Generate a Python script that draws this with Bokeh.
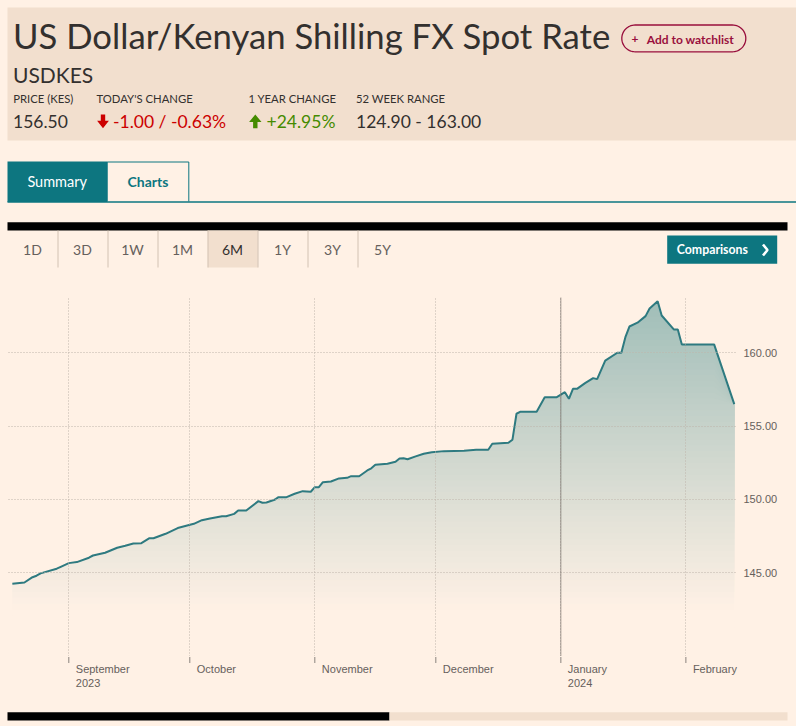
from datetime import datetime
import numpy as np
import pandas as pd
from bokeh.plotting import figure
from bokeh.layouts import column
from bokeh.models import Range1d, FixedTicker, PrintfTickFormatter, Span
from bokeh.embed import file_html
from bokeh.resources import INLINE
from bokeh.core.properties import value

# ---------------- data ----------------
dates = ["2023-08-18", "2023-08-21", "2023-08-23", "2023-08-24", "2023-08-25", "2023-08-29",
         "2023-08-30", "2023-09-01", "2023-09-03", "2023-09-06", "2023-09-07", "2023-09-10",
         "2023-09-13", "2023-09-15", "2023-09-17", "2023-09-19", "2023-09-21", "2023-09-22",
         "2023-09-25", "2023-09-28", "2023-10-02", "2023-10-04", "2023-10-06", "2023-10-09",
         "2023-10-10", "2023-10-12", "2023-10-13", "2023-10-15", "2023-10-18", "2023-10-19",
         "2023-10-20", "2023-10-22", "2023-10-23", "2023-10-25", "2023-10-27", "2023-10-29",
         "2023-10-31", "2023-11-01", "2023-11-02", "2023-11-03", "2023-11-05", "2023-11-07",
         "2023-11-09", "2023-11-10", "2023-11-12", "2023-11-14", "2023-11-15", "2023-11-16",
         "2023-11-19", "2023-11-21", "2023-11-22", "2023-11-23", "2023-11-24", "2023-11-26",
         "2023-11-28", "2023-11-30", "2023-12-03", "2023-12-08", "2023-12-11", "2023-12-14",
         "2023-12-15", "2023-12-17", "2023-12-19", "2023-12-20", "2023-12-21", "2023-12-22",
         "2023-12-26", "2023-12-28", "2023-12-31", "2024-01-02", "2024-01-03", "2024-01-04",
         "2024-01-05", "2024-01-07", "2024-01-09", "2024-01-10", "2024-01-12", "2024-01-15",
         "2024-01-16", "2024-01-17", "2024-01-18", "2024-01-20", "2024-01-22", "2024-01-23",
         "2024-01-25", "2024-01-26", "2024-01-29", "2024-01-30", "2024-01-31", "2024-02-08",
         "2024-02-13"]
rates = [144.24, 144.33, 144.69, 144.79, 144.95, 145.27,
         145.40, 145.65, 145.72, 146.02, 146.17, 146.36,
         146.70, 146.83, 146.99, 147.01, 147.35, 147.35,
         147.65, 148.04, 148.33, 148.58, 148.70, 148.85,
         148.85, 149.01, 149.24, 149.24, 149.88, 149.77,
         149.79, 149.97, 150.15, 150.15, 150.38, 150.56,
         150.52, 150.83, 150.83, 151.17, 151.22, 151.43,
         151.47, 151.58, 151.58, 151.97, 152.12, 152.36,
         152.43, 152.56, 152.79, 152.81, 152.74, 152.93,
         153.11, 153.22, 153.29, 153.31, 153.38, 153.38,
         153.79, 153.83, 153.86, 154.07, 155.84, 155.98,
         155.98, 156.97, 156.97, 157.31, 156.86, 157.54,
         157.54, 157.93, 158.27, 158.20, 159.47, 160.00,
         160.00, 161.06, 161.79, 162.05, 162.50, 163.02,
         163.52, 162.54, 161.59, 161.59, 160.57, 160.57,
         156.50]
month_ticks = ["2023-09-01", "2023-10-01", "2023-11-01", "2023-12-01", "2024-01-01", "2024-02-01"]
month_labels = ["September", "October", "November", "December", "January", "February"]
year_labels = ["2023", "", "", "", "2024", ""]
year_start = "2024-01-01"
y_ticks = [145, 150, 155, 160]
periods = ["1D", "3D", "1W", "1M", "6M", "1Y", "3Y", "5Y"]
selected_period = "6M"
title = "US Dollar/Kenyan Shilling FX Spot Rate"
symbol = "USDKES"
stat_heads = ["PRICE (KES)", "TODAY'S CHANGE", "1 YEAR CHANGE", "52 WEEK RANGE"]
price_txt = "156.50"
change_txt = "-1.00 / -0.63%"
year_change_txt = "+24.95%"
range_txt = "124.90 - 163.00"

# ---------------- styles ----------------
BG = "#fff1e5"
BAND = "#f2dfce"
TEAL = "#0d7680"
INK = "#33302e"
GREY = "#66605c"
CLARET = "#990f3d"
RED = "#cc0000"
GREEN = "#458b00"
LINE = "#2e7a80"
HFONT = "Lato"
CFONT = "Liberation Sans"
K_LATO = 0.387      # baseline -> middle offset (em)
K_LIB = 0.347
PAGE_STYLE = {"background-color": BG}


def mid(baseline, size, k=K_LATO):
    return baseline - k * size


def base_fig(h, align=False):
    f = figure(width=796, height=h, x_range=Range1d(0, 796), y_range=Range1d(h, 0),
               output_backend="svg", toolbar_location=None, min_border=0,
               x_axis_location=None, y_axis_location=None, outline_line_color=None,
               background_fill_color=BG, border_fill_color=BG, styles=PAGE_STYLE)
    f.frame_align = align
    f.grid.visible = False
    return f


def htext(f, xs_, ys_, texts, size, color, **kw):
    f.text(x=xs_, y=ys_, text=texts, text_font=value(HFONT), text_font_size=f"{size}px",
           text_color=color, text_baseline="middle", **kw)


# ---------------- header ----------------
hdr = base_fig(290)
hdr.quad(left=7, right=796, top=7, bottom=140, fill_color=BAND, line_color=None)
htext(hdr, [12.5], [mid(48.3, 34.7)], [title], 34.7, INK)
htext(hdr, [12.5], [mid(81.7, 21)], [symbol], 21, INK)
htext(hdr, [12.7, 96, 248, 355.5], [mid(102.7, 11.3)] * 4, stat_heads, 11.3, INK)
htext(hdr, [12.5, 112.5, 266, 355.5], [mid(127.7, 17.5)] * 4,
      [price_txt, change_txt, year_change_txt, range_txt], 17.5, [INK, RED, GREEN, INK])
# arrows
hdr.patch([100.3, 104.7, 104.7, 108.4, 102.5, 96.6, 100.3],
          [114, 114, 120.3, 120.3, 127.7, 120.3, 120.3], fill_color=RED, line_color=None)
hdr.patch([252.6, 257, 257, 261, 254.8, 248.6, 252.6],
          [127.7, 127.7, 121.4, 121.4, 114, 121.4, 121.4], fill_color=GREEN, line_color=None)
# watchlist pill
x0p, x1p, y0p, y1p = 621.3, 745.3, 24.5, 51.3
r = (y1p - y0p) / 2
cy = (y0p + y1p) / 2
a1 = np.linspace(-np.pi / 2, np.pi / 2, 30)
a2 = np.linspace(np.pi / 2, 3 * np.pi / 2, 30)
px = np.concatenate([x1p - r + r * np.cos(a1), x0p + r + r * np.cos(a2), [x1p - r]])
py = np.concatenate([cy + r * np.sin(a1), cy + r * np.sin(a2), [y0p]])
hdr.line(px, py, line_color=CLARET, line_width=1.3)
htext(hdr, [634.5], [mid(43.3, 12)], ["+"], 12, CLARET, text_font_style="bold", text_align="center")
htext(hdr, [646.3], [mid(43.3, 12)], ["Add to watchlist"], 12, CLARET, text_font_style="bold")
# tabs
hdr.quad(left=7, right=106.7, top=161, bottom=201.5, fill_color=TEAL, line_color=None)
hdr.line([106.7, 106.7, 188.3, 188.3], [201, 161.5, 161.5, 201], line_color=TEAL, line_width=1)
hdr.segment(x0=[7], y0=[201.5], x1=[796], y1=[201.5], line_color=TEAL, line_width=1.3)
htext(hdr, [56.7], [mid(186.7, 14.5)], ["Summary"], 14.5, "white", text_align="center")
htext(hdr, [147.5], [mid(186.7, 14)], ["Charts"], 14, TEAL, text_font_style="bold",
      text_align="center")
# black rule
hdr.quad(left=7, right=787, top=221.7, bottom=230, fill_color="black", line_color=None)
# period selector
idx = periods.index(selected_period)
cells_l = [7 + 50 * i for i in range(len(periods))]
hdr.quad(left=cells_l[idx] + 0.3, right=cells_l[idx] + 50.3, top=230, bottom=267,
         fill_color=BAND, line_color=None)
hdr.segment(x0=[c + 50.5 for c in cells_l[:-1]], y0=[230] * 7,
            x1=[c + 50.5 for c in cells_l[:-1]], y1=[267] * 7, line_color="#d2c2b3", line_width=1)
htext(hdr, [c + 25 for c in cells_l], [mid(254.3, 14)] * len(periods), periods, 14,
      [INK if p == selected_period else GREY for p in periods], text_align="center")
# comparisons button
hdr.quad(left=666.7, right=776.7, top=235, bottom=263.3, fill_color=TEAL, line_color=None)
htext(hdr, [676.3], [mid(254, 12.3)], ["Comparisons"], 12.3, "white", text_font_style="bold")
hdr.line([762.5, 767, 762.5], [244, 249.5, 255], line_color="white", line_width=2.6)

# ---------------- chart ----------------
xs = pd.to_datetime(dates)
vals = np.array(rates)
ylo, yhi = 139.28, 163.77
xr = Range1d(datetime(2023, 8, 17, 1, 10), datetime(2024, 2, 13, 19, 10))
chart = figure(width=796, height=366, x_axis_type="datetime", y_axis_location="right",
               x_axis_location=None, x_range=xr, y_range=Range1d(ylo, yhi),
               output_backend="svg", toolbar_location=None,
               min_border_left=8, min_border_right=59, min_border_top=7, min_border_bottom=0,
               outline_line_color=None, background_fill_color=BG, border_fill_color=BG,
               styles=PAGE_STYLE)

# gradient fill under the line (stacked bands)
bgc = np.array([255, 241, 229], float)
topc = np.array([157, 188, 183], float)
g_bot, g_top = 142.4, 164.2
step = 0.4
for lo in np.arange(ylo, vals.max() + step, step):
    t = float(np.clip((lo + step / 2 - g_bot) / (g_top - g_bot), 0, 1))
    c = bgc * (1 - t) + topc * t
    col = "#%02x%02x%02x" % tuple(int(round(v)) for v in c)
    chart.varea(x=xs, y1=np.minimum(vals, lo), y2=vals, fill_color=col)

chart.line(xs, vals, line_color=LINE, line_width=2)

month_ms = [pd.Timestamp(m).value / 1e6 for m in month_ticks]

chart.yaxis.ticker = FixedTicker(ticks=y_ticks)
chart.yaxis.formatter = PrintfTickFormatter(format="%.2f")
chart.yaxis.major_tick_line_color = None
chart.yaxis.major_tick_out = 0
chart.yaxis.minor_tick_line_color = None
chart.yaxis.axis_line_color = None
chart.yaxis.major_label_standoff = 6
chart.yaxis.major_label_text_font = CFONT
chart.yaxis.major_label_text_font_size = "11px"
chart.yaxis.major_label_text_color = GREY

chart.xgrid.ticker = FixedTicker(ticks=month_ms)
chart.ygrid.ticker = FixedTicker(ticks=y_ticks)
for g in (chart.xgrid, chart.ygrid):
    g.grid_line_color = "#bfb4aa"
    g.grid_line_dash = "1 2"
    g.grid_line_width = 1
    g.level = "overlay"

chart.add_layout(Span(location=pd.Timestamp(year_start).value / 1e6, dimension="height",
                      line_color="#4a4542", line_dash="1 1", line_width=1, level="overlay"))

# ---------------- month ticks and labels (shares the chart's x scale) ----------------
lab = figure(width=796, height=49, x_axis_type="datetime", x_range=xr, y_range=Range1d(49, 0),
             x_axis_location=None, y_axis_location=None, output_backend="svg",
             toolbar_location=None, min_border_left=8, min_border_right=59, min_border_top=0,
             min_border_bottom=0, outline_line_color=None, background_fill_color=BG,
             border_fill_color=BG, styles=PAGE_STYLE)
lab.grid.visible = False
mdates = pd.to_datetime(month_ticks)
lab.segment(x0=mdates, y0=[0.5] * 6, x1=mdates, y1=[6.5] * 6, line_color="#8a837e", line_width=1)
lab.text(x=mdates, y=[mid(16.3, 11, K_LIB)] * 6, text=month_labels, x_offset=7,
         text_font=value(CFONT), text_font_size="11px", text_color=GREY, text_baseline="middle")
lab.text(x=mdates, y=[mid(30.8, 11, K_LIB)] * 6, text=year_labels, x_offset=7,
         text_font=value(CFONT), text_font_size="11px", text_color=GREY, text_baseline="middle")

# ---------------- footer scrollbar ----------------
ftr = base_fig(21)
ftr.quad(left=7, right=389, top=6.7, bottom=15, fill_color="black", line_color=None)
ftr.quad(left=389, right=787, top=6.7, bottom=15, fill_color=BAND, line_color=None)

page = column(hdr, chart, lab, ftr, spacing=0, styles=PAGE_STYLE)
open("out.html", "w").write(file_html(page, INLINE))
